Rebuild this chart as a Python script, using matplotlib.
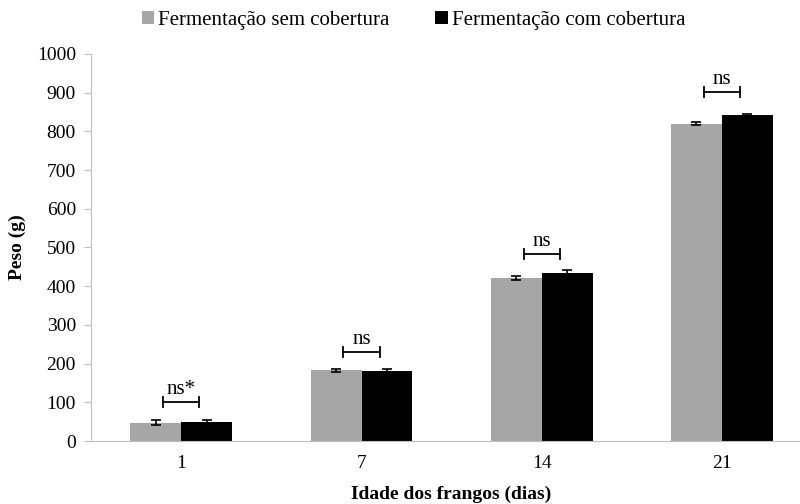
import numpy as np
import matplotlib
matplotlib.use('Agg')
import matplotlib.pyplot as plt

# Idade (dias) e peso médio (g)
idades = ['1', '7', '14', '21']
sem_cobertura = [47, 183, 420, 820]
sem_erro = [6, 4, 5, 4]
com_cobertura = [49, 181, 435, 842]
com_erro = [5, 4, 6, 4]
rotulos = ['ns*', 'ns', 'ns', 'ns']
altura_colchete = [101, 230, 483, 902]

plt.rcParams['font.family'] = ['Liberation Serif', 'DejaVu Serif']
plt.rcParams['font.size'] = 14

fig = plt.figure(figsize=(8, 5.04), dpi=100)
ax = fig.add_axes([0.114, 0.125, 0.901, 0.768])

x = np.arange(len(idades))
w = 0.283
ek = dict(ecolor='black', capsize=3.5, elinewidth=1.2, capthick=1.2)
ax.bar(x - w / 2, sem_cobertura, w, color='#a6a6a6', label='Fermentação sem cobertura',
       yerr=sem_erro, error_kw=ek)
ax.bar(x + w / 2, com_cobertura, w, color='black', label='Fermentação com cobertura',
       yerr=com_erro, error_kw=ek)

# colchetes de significância
for i in range(len(idades)):
    h = altura_colchete[i]
    x0, x1 = x[i] - 0.1, x[i] + 0.1
    ax.plot([x0, x1], [h, h], color='black', lw=1.3)
    ax.plot([x0, x0], [h - 12, h + 12], color='black', lw=1.3)
    ax.plot([x1, x1], [h - 12, h + 12], color='black', lw=1.3)
    ax.text(x[i], h + 8, rotulos[i], ha='center', va='bottom', fontsize=15)

ax.set_xlim(-0.5, 3.5)
ax.set_ylim(0, 1000)
ax.set_yticks(np.arange(0, 1001, 100))
ax.set_xticks(x)
ax.set_xticklabels(idades)
ax.tick_params(axis='x', length=0, pad=10)
ax.tick_params(axis='y', length=5, color='#bfbfbf', pad=6)
for s in ['top', 'right']:
    ax.spines[s].set_visible(False)
for s in ['left', 'bottom']:
    ax.spines[s].set_color('#bfbfbf')

ax.set_ylabel('Peso (g)', fontweight='bold', labelpad=8)
ax.set_xlabel('Idade dos frangos (dias)', fontweight='bold', labelpad=10)

fig.legend(loc='upper center', bbox_to_anchor=(0.517, 1.015), ncol=2, frameon=False,
           fontsize=15, handlelength=0.6, handleheight=0.6, handletextpad=0.2,
           columnspacing=2.2)

fig.savefig('out.png', dpi=100)
